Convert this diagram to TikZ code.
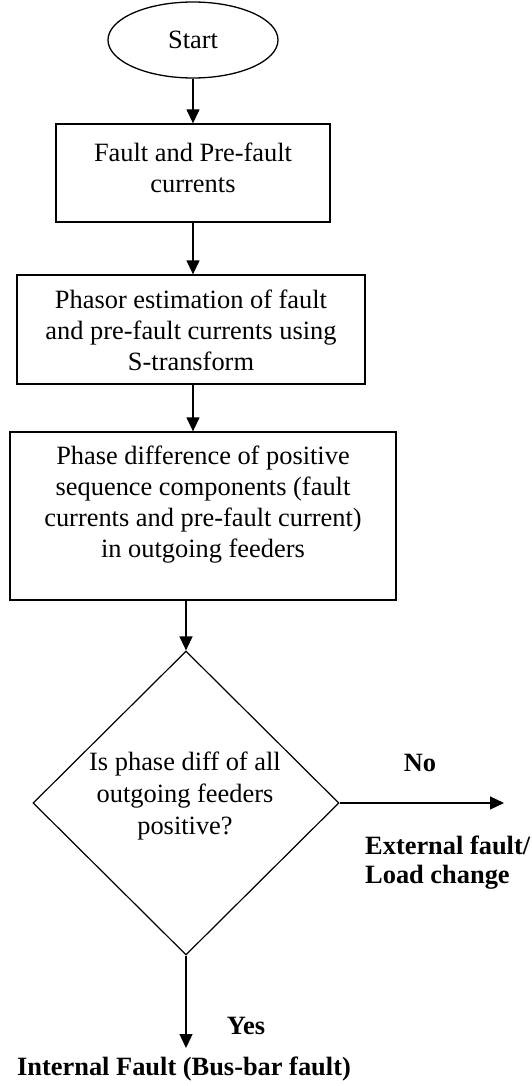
\documentclass[tikz,border=0pt]{standalone}
\usepackage{fontspec}
\setmainfont{Liberation Serif}
\usetikzlibrary{shapes.geometric,arrows.meta,calc}
\begin{document}
\begin{tikzpicture}[x=1pt,y=-1pt,
  every node/.style={font=\fontsize{26.4}{31}\selectfont},
  shp/.style={draw, line width=1.3pt, inner sep=0pt},
  boxshape/.style={shp, rectangle},
  txt/.style={align=center, inner sep=0pt},
  lbl/.style={font=\fontsize{26.4}{29}\selectfont\bfseries, inner sep=0pt},
  arr/.style={line width=1.3pt, -{Triangle[length=14pt,width=13pt]}}]
\useasboundingbox (0,0) rectangle (531,1086);

\node[shp, ellipse, minimum width=170pt, minimum height=76pt] (start) at (193,40) {Start};

\node[boxshape, minimum width=274pt, minimum height=98pt] (b1) at (193,173) {};
\node[txt] (t1) at (193,168) {Fault and Pre-fault\\currents};

\node[boxshape, minimum width=348pt, minimum height=109pt] (b2) at (191,329.5) {};
\node[txt] (t2) at (191,330) {Phasor estimation of fault\\and pre-fault currents using\\S-transform};

\node[boxshape, minimum width=386pt, minimum height=168pt] (b3) at (203,516) {};
\node[txt] (t3) at (203,505) {Phase difference of positive\\sequence components (fault\\currents and pre-fault current)\\in outgoing feeders};

\node[shp, line width=1.2pt, diamond, aspect=1, minimum width=306pt, minimum height=304pt] (d) at (186,803) {};
\node[txt, font=\fontsize{26.4}{32}\selectfont] (td) at (185,796) {Is phase diff of all\\outgoing feeders\\positive?};

\draw[arr] (start.south) -- (b1.north);
\draw[arr] (b1.south) -- (b1.south |- b2.north);
\draw[arr] (b2.south -| b1.south) -- (b1.south |- b3.north);
\draw[arr] (b3.south -| d.north) -- (d.north);
\coordinate (e) at (504,803);
\draw[arr] (d.east) -- (e);
\coordinate (s) at (186,1048);
\draw[arr] (d.south) -- (s);

\node[lbl] (no) at (420,763) {No};
\node[lbl, align=left, anchor=west] (ext) at (365,863) {External fault/\\Load change};
\node[lbl] (yes) at (246,1026) {Yes};
\node[lbl] (int) at (184,1069) {Internal Fault (Bus-bar fault)};
\end{tikzpicture}
\end{document}
